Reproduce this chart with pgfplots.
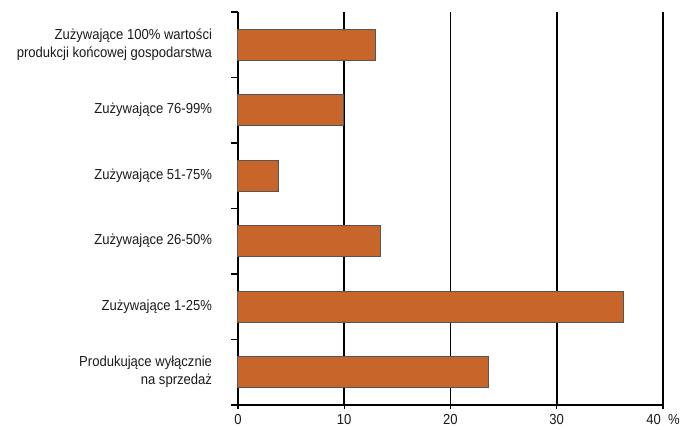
\documentclass[border=0pt]{standalone}
\usepackage{pgfplots}
\pgfplotsset{compat=1.18}
\usepackage{fontspec}
\setmainfont{Liberation Sans}[FakeStretch=0.9]
\definecolor{barfill}{HTML}{C8652A}
\definecolor{baredge}{HTML}{555555}
\definecolor{txt}{HTML}{1A1A1A}
\begin{document}
\fontsize{14.5}{18}\selectfont
\begin{tikzpicture}
\begin{axis}[
  name=ax,
  scale only axis,
  width=425pt, height=393pt,
  xbar,
  xmin=0, xmax=40,
  ymin=-0.5, ymax=5.5,
  axis x line*=bottom,
  axis y line*=left,
  axis line style={-},
  x axis line style={line width=2pt},
  y axis line style={line width=2.6pt},
  xtick={0,10,20,30,40},
  xticklabels={0,10,20,30,{40\enspace\%}},
  xticklabel style={font=\fontsize{14.5}{16}\selectfont, text=txt},
  xmajorgrids,
  major x grid style={black, line width=1.7pt},
  x tick style={black, line width=1.3pt},
  ytick={0,1,2,3,4,5},
  yticklabels={{Produkujące wyłącznie\\na sprzedaż},{Zużywające 1-25\%},{Zużywające 26-50\%},{Zużywające 51-75\%},{Zużywające 76-99\%},{Zużywające 100\% wartości\\produkcji końcowej gospodarstwa}},
  yticklabel style={align=right, xshift=-17pt, text=txt, font=\fontsize{14.5}{18}\selectfont},
  y tick style={draw=none},
  extra y ticks={-0.5,0.5,1.5,2.5,3.5,4.5,5.5},
  extra y tick labels={},
  extra y tick style={y tick style={draw=black, line width=1.3pt}, major tick length=7pt},
  tick align=outside,
  major tick length=4pt,
  bar width=0.47,
  bar shift=0pt,
  clip=false,
]
\addplot[fill=barfill, draw=baredge, line width=1pt] coordinates {
  (23.6,0) (36.3,1) (13.4,2) (3.8,3) (9.9,4) (12.9,5)
};
\end{axis}
\path (ax.south west) ++(-238pt,-22pt) rectangle ++(688pt,427pt);
\end{tikzpicture}
\end{document}
